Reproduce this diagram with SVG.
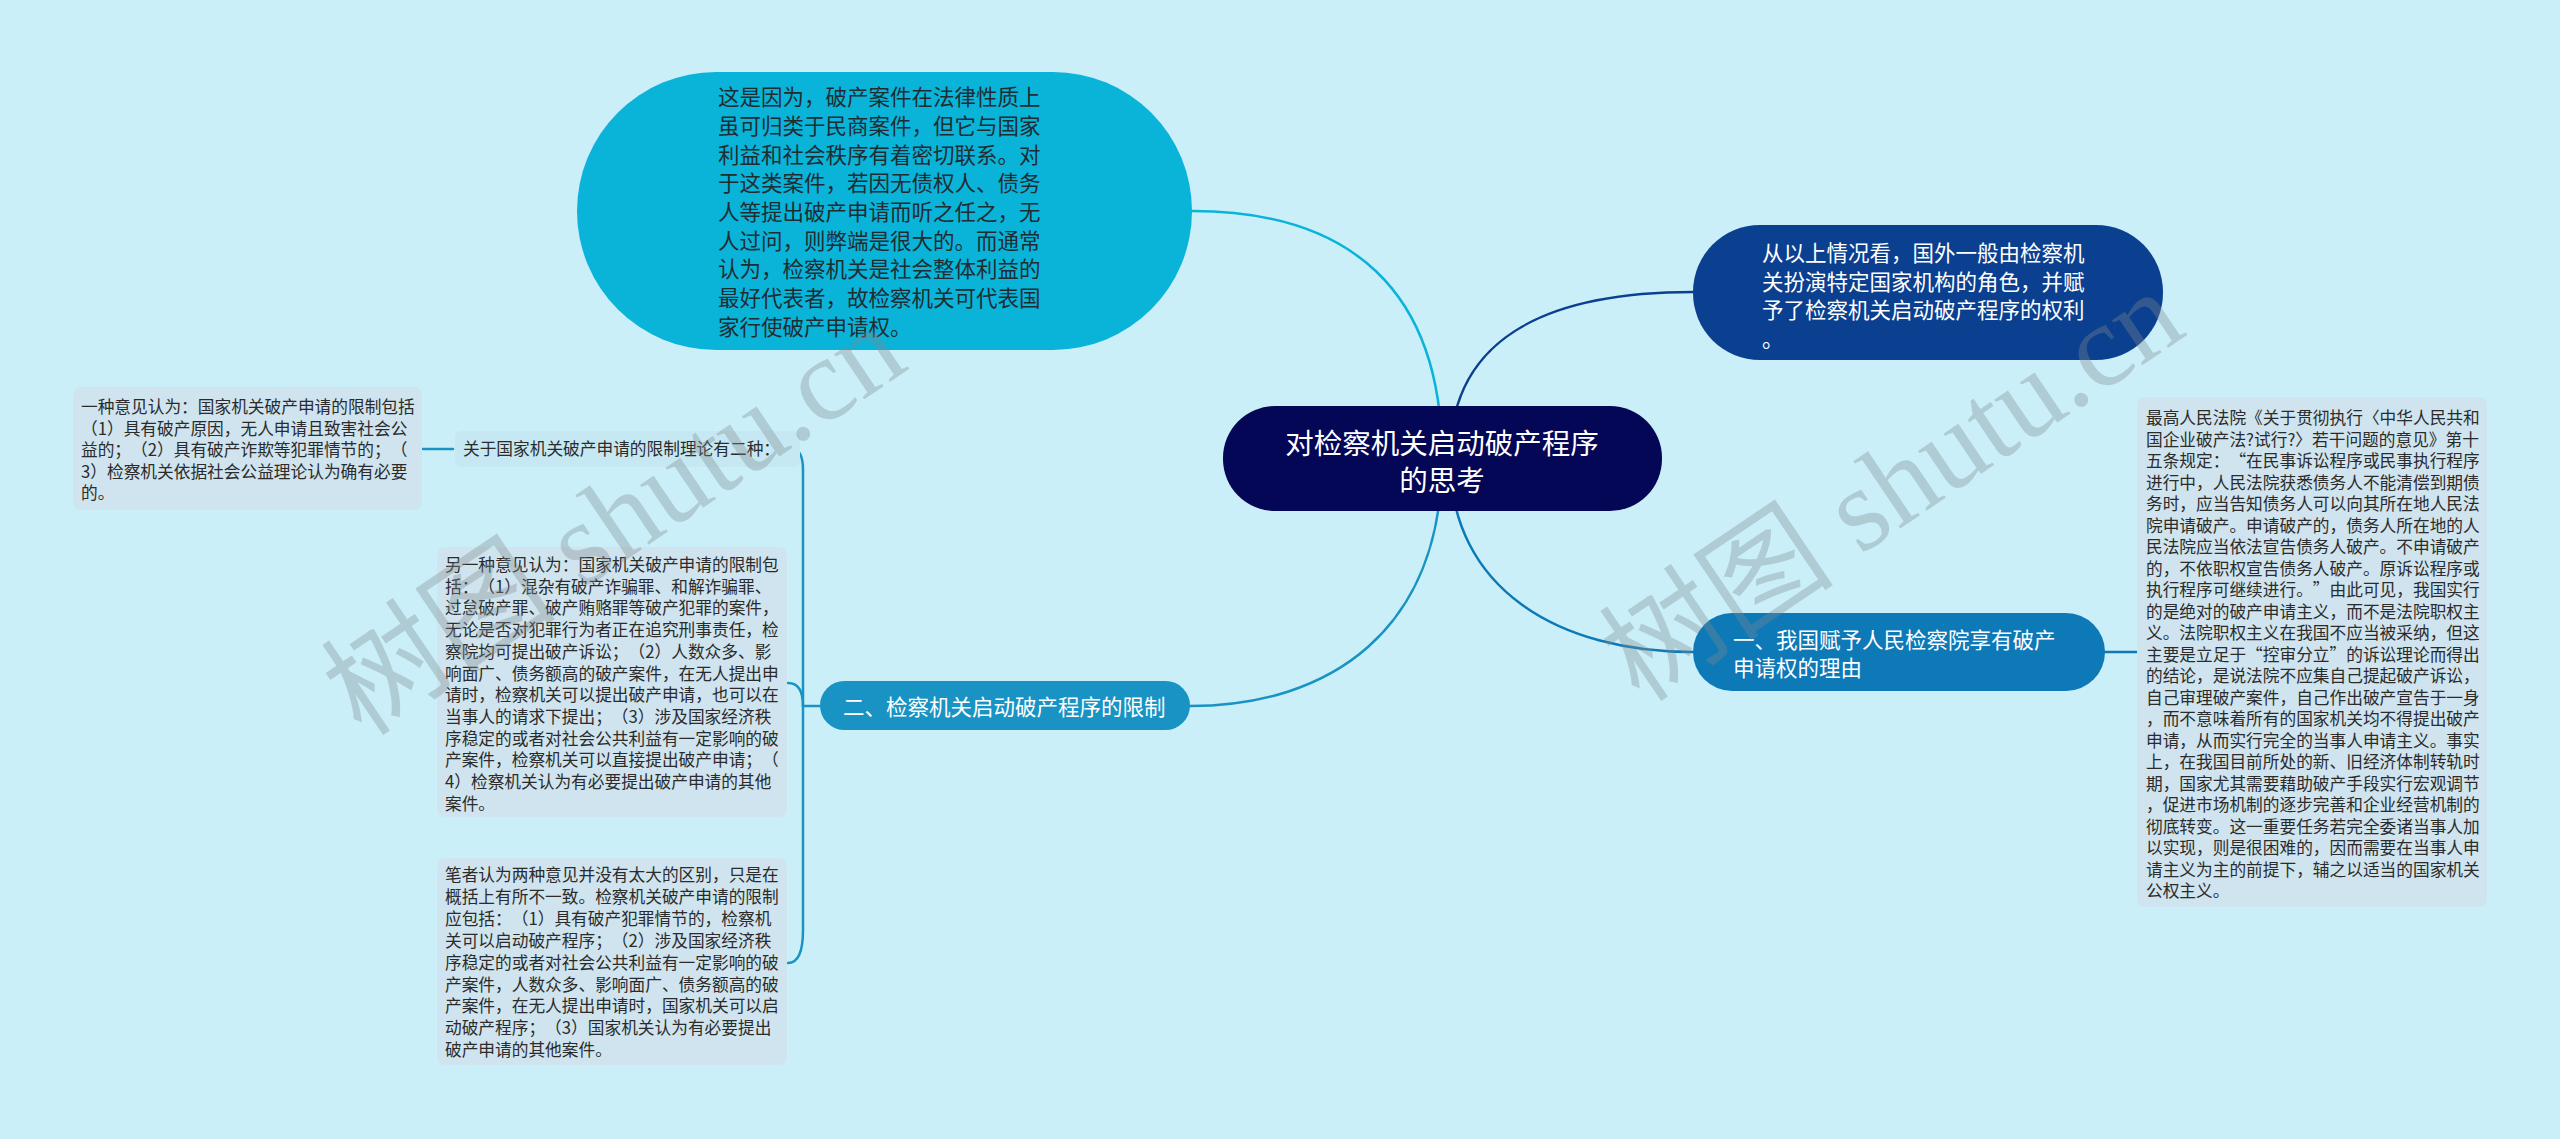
<svg xmlns="http://www.w3.org/2000/svg" width="2560" height="1139" viewBox="0 0 2560 1139">
<style>
.cn{font-family:"Noto Sans CJK SC","Noto Sans",sans-serif;text-spacing-trim:space-all;font-feature-settings:"halt" 0,"palt" 0;}
.t16{font-size:16.7px;fill:#2b2b2b;}
.t21{font-size:21.5px;}
.dark{fill:#1f2d33;}
.white{fill:#ffffff;}
.box{fill:#cfe4ee;}
.line{fill:none;stroke-width:2.5;stroke-linecap:round;}
.wm{font-family:"Liberation Serif","Noto Sans CJK SC",serif;font-size:118px;fill:#7d8a90;fill-opacity:0.35;}
</style>
<rect x="0" y="0" width="2560" height="1139" fill="#caeff8"/>

<g id="connectors">
  <path class="line" stroke="#0ab3d8" d="M1442 458 C1442 290 1350 211 1192 211"/>
  <path class="line" stroke="#0b3f8f" d="M1450 458 C1450 330 1560 292 1693 292"/>
  <path class="line" stroke="#1893c3" d="M1442 458 C1442 630 1330 706 1190 706"/>
  <path class="line" stroke="#0d79b7" d="M1450 458 C1450 590 1560 652 1693 652"/>
  <path class="line" stroke="#1893c3" d="M820 706 L803 706"/>
  <path class="line" stroke="#1893c3" d="M803 706 L803 470 Q803 449 792 449"/>
  <path class="line" stroke="#1893c3" d="M803 706 Q803 683 788 683"/>
  <path class="line" stroke="#1893c3" d="M803 706 L803 930 Q803 963 788 963"/>
  <path class="line" stroke="#1893c3" d="M423 449 L453 449"/>
  <path class="line" stroke="#0d79b7" d="M2105 652 L2137 652"/>
</g>

<g id="root">
  <rect x="1223" y="406" width="439" height="105" rx="52" fill="#040656"/>
  <text class="cn white" font-size="28.5" text-anchor="middle"><tspan x="1442" y="454">对检察机关启动破产程序</tspan><tspan x="1442" y="491">的思考</tspan></text>
</g>

<g id="node-top-left">
  <rect x="577" y="72" width="615" height="278" rx="139" fill="#0ab3d8"/>
  <text class="cn t21 dark">
    <tspan x="718" y="105">这是因为，破产案件在法律性质上</tspan>
    <tspan x="718" y="134">虽可归类于民商案件，但它与国家</tspan>
    <tspan x="718" y="163">利益和社会秩序有着密切联系。对</tspan>
    <tspan x="718" y="191">于这类案件，若因无债权人、债务</tspan>
    <tspan x="718" y="220">人等提出破产申请而听之任之，无</tspan>
    <tspan x="718" y="249">人过问，则弊端是很大的。而通常</tspan>
    <tspan x="718" y="277">认为，检察机关是社会整体利益的</tspan>
    <tspan x="718" y="306">最好代表者，故检察机关可代表国</tspan>
    <tspan x="718" y="335">家行使破产申请权。</tspan>
  </text>
</g>

<g id="node-top-right">
  <rect x="1693" y="225" width="470" height="135" rx="67" fill="#0b3f8f"/>
  <text class="cn t21 white">
    <tspan x="1762" y="261">从以上情况看，国外一般由检察机</tspan>
    <tspan x="1762" y="290">关扮演特定国家机构的角色，并赋</tspan>
    <tspan x="1762" y="318">予了检察机关启动破产程序的权利</tspan>
    <tspan x="1762" y="347">。</tspan>
  </text>
</g>

<g id="node-one">
  <rect x="1693" y="613" width="412" height="78" rx="39" fill="#0d79b7"/>
  <text class="cn t21 white">
    <tspan x="1733" y="648">一、我国赋予人民检察院享有破产</tspan>
    <tspan x="1733" y="676">申请权的理由</tspan>
  </text>
</g>

<g id="node-one-detail">
  <rect x="2137" y="397" width="350" height="510" rx="8" class="box"/>
  <text class="cn t16">
    <tspan x="2146" y="424">最高人民法院《关于贯彻执行〈中华人民共和</tspan>
    <tspan x="2146" y="445.5">国企业破产法?试行?〉若干问题的意见》第十</tspan>
    <tspan x="2146" y="467">五条规定：“在民事诉讼程序或民事执行程序</tspan>
    <tspan x="2146" y="488.5">进行中，人民法院获悉债务人不能清偿到期债</tspan>
    <tspan x="2146" y="510">务时，应当告知债务人可以向其所在地人民法</tspan>
    <tspan x="2146" y="531.5">院申请破产。申请破产的，债务人所在地的人</tspan>
    <tspan x="2146" y="553">民法院应当依法宣告债务人破产。不申请破产</tspan>
    <tspan x="2146" y="574.5">的，不依职权宣告债务人破产。原诉讼程序或</tspan>
    <tspan x="2146" y="596">执行程序可继续进行。”由此可见，我国实行</tspan>
    <tspan x="2146" y="617.5">的是绝对的破产申请主义，而不是法院职权主</tspan>
    <tspan x="2146" y="639">义。法院职权主义在我国不应当被采纳，但这</tspan>
    <tspan x="2146" y="660.5">主要是立足于“控审分立”的诉讼理论而得出</tspan>
    <tspan x="2146" y="682">的结论，是说法院不应集自己提起破产诉讼，</tspan>
    <tspan x="2146" y="703.5">自己审理破产案件，自己作出破产宣告于一身</tspan>
    <tspan x="2146" y="725">，而不意味着所有的国家机关均不得提出破产</tspan>
    <tspan x="2146" y="746.5">申请，从而实行完全的当事人申请主义。事实</tspan>
    <tspan x="2146" y="768">上，在我国目前所处的新、旧经济体制转轨时</tspan>
    <tspan x="2146" y="789.5">期，国家尤其需要藉助破产手段实行宏观调节</tspan>
    <tspan x="2146" y="811">，促进市场机制的逐步完善和企业经营机制的</tspan>
    <tspan x="2146" y="832.5">彻底转变。这一重要任务若完全委诸当事人加</tspan>
    <tspan x="2146" y="854">以实现，则是很困难的，因而需要在当事人申</tspan>
    <tspan x="2146" y="875.5">请主义为主的前提下，辅之以适当的国家机关</tspan>
    <tspan x="2146" y="897">公权主义。</tspan>
  </text>
</g>

<g id="node-two">
  <rect x="820" y="681" width="370" height="49" rx="24.5" fill="#1893c3"/>
  <text class="cn t21 white" x="843" y="715">二、检察机关启动破产程序的限制</text>
</g>

<g id="node-theory">
  <rect x="455" y="431" width="345" height="36" rx="6" fill="#c6e8f2"/>
  <text class="cn t16" x="463" y="455">关于国家机关破产申请的限制理论有二种：</text>
</g>

<g id="node-theory-a">
  <rect x="73" y="387" width="349" height="123" rx="8" class="box"/>
  <text class="cn t16">
    <tspan x="81" y="413">一种意见认为：国家机关破产申请的限制包括</tspan>
    <tspan x="81" y="434.5">（1）具有破产原因，无人申请且致害社会公</tspan>
    <tspan x="81" y="456">益的；（2）具有破产诈欺等犯罪情节的；（</tspan>
    <tspan x="81" y="477.5">3）检察机关依据社会公益理论认为确有必要</tspan>
    <tspan x="81" y="499">的。</tspan>
  </text>
</g>

<g id="node-opinion-b">
  <rect x="437" y="547" width="350" height="270" rx="8" class="box"/>
  <text class="cn t16">
    <tspan x="445" y="571">另一种意见认为：国家机关破产申请的限制包</tspan>
    <tspan x="445" y="592.7">括：（1）混杂有破产诈骗罪、和解诈骗罪、</tspan>
    <tspan x="445" y="614.4">过怠破产罪、破产贿赂罪等破产犯罪的案件，</tspan>
    <tspan x="445" y="636.1">无论是否对犯罪行为者正在追究刑事责任，检</tspan>
    <tspan x="445" y="657.8">察院均可提出破产诉讼；（2）人数众多、影</tspan>
    <tspan x="445" y="679.5">响面广、债务额高的破产案件，在无人提出申</tspan>
    <tspan x="445" y="701.2">请时，检察机关可以提出破产申请，也可以在</tspan>
    <tspan x="445" y="722.9">当事人的请求下提出；（3）涉及国家经济秩</tspan>
    <tspan x="445" y="744.6">序稳定的或者对社会公共利益有一定影响的破</tspan>
    <tspan x="445" y="766.3">产案件，检察机关可以直接提出破产申请；（</tspan>
    <tspan x="445" y="788">4）检察机关认为有必要提出破产申请的其他</tspan>
    <tspan x="445" y="809.7">案件。</tspan>
  </text>
</g>

<g id="node-opinion-c">
  <rect x="437" y="858" width="350" height="207" rx="8" class="box"/>
  <text class="cn t16">
    <tspan x="445" y="881">笔者认为两种意见并没有太大的区别，只是在</tspan>
    <tspan x="445" y="902.9">概括上有所不一致。检察机关破产申请的限制</tspan>
    <tspan x="445" y="924.8">应包括：（1）具有破产犯罪情节的，检察机</tspan>
    <tspan x="445" y="946.7">关可以启动破产程序；（2）涉及国家经济秩</tspan>
    <tspan x="445" y="968.6">序稳定的或者对社会公共利益有一定影响的破</tspan>
    <tspan x="445" y="990.5">产案件，人数众多、影响面广、债务额高的破</tspan>
    <tspan x="445" y="1012.4">产案件，在无人提出申请时，国家机关可以启</tspan>
    <tspan x="445" y="1034.3">动破产程序；（3）国家机关认为有必要提出</tspan>
    <tspan x="445" y="1056.2">破产申请的其他案件。</tspan>
  </text>
</g>

<g id="watermarks">
  <text class="wm" transform="translate(362,738) rotate(-34)">树图 shutu.cn</text>
  <text class="wm" transform="translate(1640,704) rotate(-34)">树图 shutu.cn</text>
</g>
</svg>
